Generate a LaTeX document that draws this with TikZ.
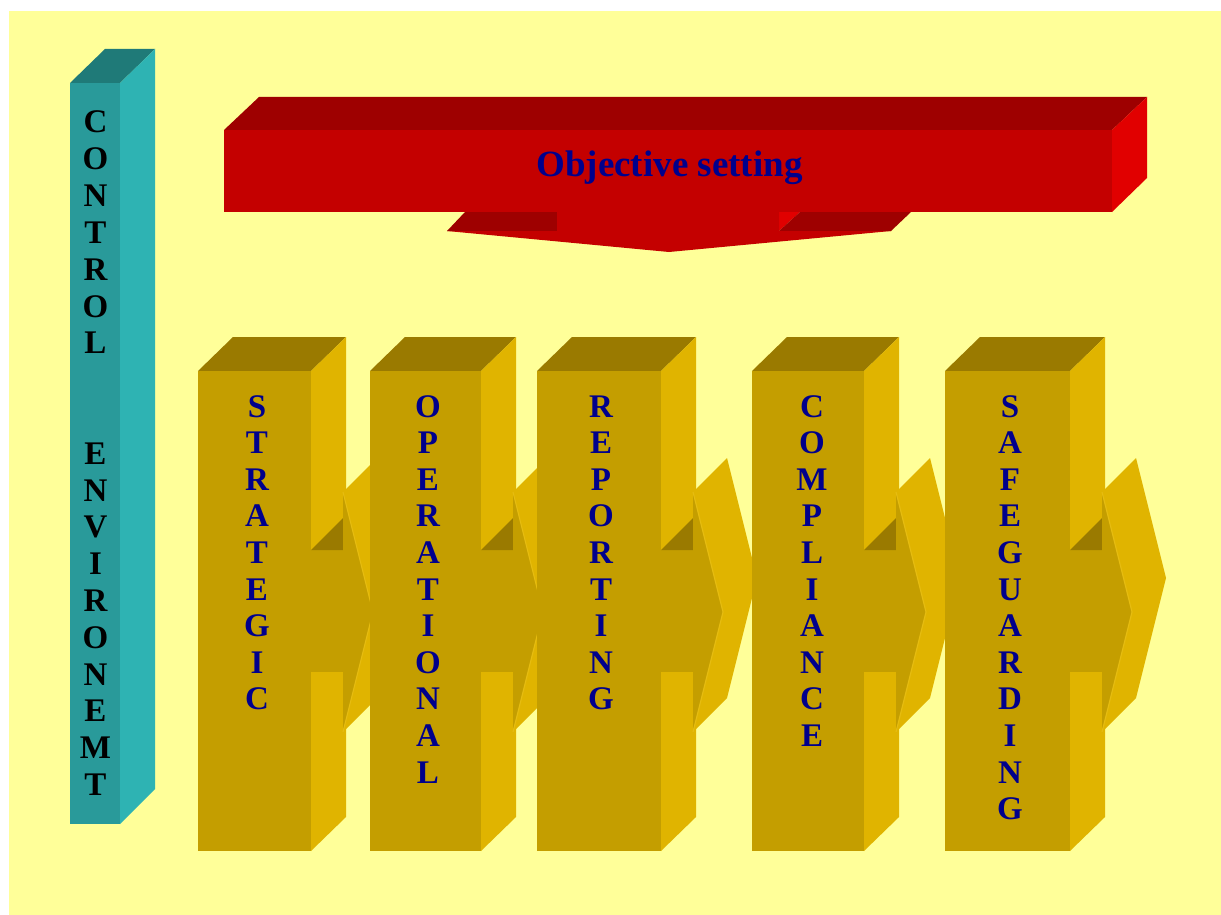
\documentclass[tikz,border=0pt]{standalone}
\usepackage{fontspec}
\setmainfont{Liberation Serif}
\definecolor{bg}{HTML}{FFFF99}
\definecolor{tealtop}{HTML}{1F7A78}
\definecolor{tealfront}{HTML}{299A9A}
\definecolor{tealside}{HTML}{2EB3B3}
\definecolor{redtop}{HTML}{9E0000}
\definecolor{redfront}{HTML}{C40000}
\definecolor{redside}{HTML}{E10000}
\definecolor{goldtop}{HTML}{9A7A00}
\definecolor{goldfront}{HTML}{C49E00}
\definecolor{goldside}{HTML}{E0B400}
\definecolor{goldedge}{HTML}{E6BC10}
\definecolor{navy}{HTML}{00008C}
\tikzset{
  letter/.style={anchor=base,inner sep=0pt,font=\fontsize{33}{36}\selectfont\bfseries,text=navy},
  tletter/.style={anchor=base,inner sep=0pt,font=\fontsize{33}{36}\selectfont\bfseries,text=black},
  title/.style={anchor=base,inner sep=0pt,font=\fontsize{37}{40}\selectfont\bfseries,text=navy}
}
\begin{document}
\begin{tikzpicture}[x=1pt,y=-1pt]
\useasboundingbox (0,0) rectangle (1221,915);
\fill[white] (0,0) rectangle (1221,915);
\fill[bg] (9,11) rectangle (1221,915);
% control environment column
\fill[tealtop] (70,83)--(105,49)--(155,49)--(120,83)--cycle;
\fill[tealfront] (70,83) rectangle (120,824);
\fill[tealside] (120,83)--(155,49)--(155,789)--(120,824)--cycle;
\foreach \c [count=\i] in {C,O,N,T,R,O,L}
  \node[tletter] (ce1-\i) at (95.5,{133+(\i-1)*36.8}) {\c};
\foreach \c [count=\i] in {E,N,V,I,R,O,N,E,M,T}
  \node[tletter] (ce2-\i) at (95.5,{464.2+(\i-1)*36.8}) {\c};
% objective setting bar
\fill[redtop] (224,130)--(259,97)--(1147,97)--(1112,130)--cycle;
\fill[redfront] (224,130) rectangle (1112,212);
\fill[redside] (1112,130)--(1147,97)--(1147,178)--(1112,212)--cycle;
\fill[redtop] (447,231)--(465,212)--(557,212)--(557,231)--cycle;
\fill[redside] (779,212)--(800,212)--(779,231)--cycle;
\fill[redtop] (779,231)--(800,212)--(911,212)--(891,231)--cycle;
\fill[redfront] (447,231)--(557,231)--(557,212)--(779,212)--(779,231)--(891,231)--(669,252)--cycle;
\node[title] (obj) at (669.5,176) {Objective setting};
% objective columns
\foreach \L/\R/\tx/\word/\n in {
  198/311/257/{S,T,R,A,T,E,G,I,C}/a,
  370/481/428/{O,P,E,R,A,T,I,O,N,A,L}/b,
  537/661/601/{R,E,P,O,R,T,I,N,G}/c,
  752/864/812/{C,O,M,P,L,I,A,N,C,E}/d,
  945/1070/1010/{S,A,F,E,G,U,A,R,D,I,N,G}/e}{
  \fill[goldtop] (\L,371)--(\L+35,337)--(\R+35,337)--(\R,371)--cycle;
  \fill[goldside] (\R,371)--(\R+35,337)--(\R+35,817)--(\R,851)--cycle;
  \fill[goldfront] (\L,371) rectangle (\R,851);
  \fill[goldfront] (\R,550) rectangle (\R+32,672);
  \fill[goldtop] (\R,550)--(\R+32,518)--(\R+32,550)--cycle;
  \fill[goldside] (\R+32,492)--(\R+66,458)--(\R+96,578)--(\R+66,698)--(\R+32,732)--cycle;
  \fill[goldfront] (\R+32,492)--(\R+62,612)--(\R+32,732)--cycle;
  \draw[goldedge,line width=1.2pt] (\R+32,492)--(\R+62,612)--(\R+32,732);
  \foreach \c [count=\i] in \word
    \node[letter] (\n-\i) at (\tx,{417+(\i-1)*36.6}) {\c};
}
\end{tikzpicture}
\end{document}
